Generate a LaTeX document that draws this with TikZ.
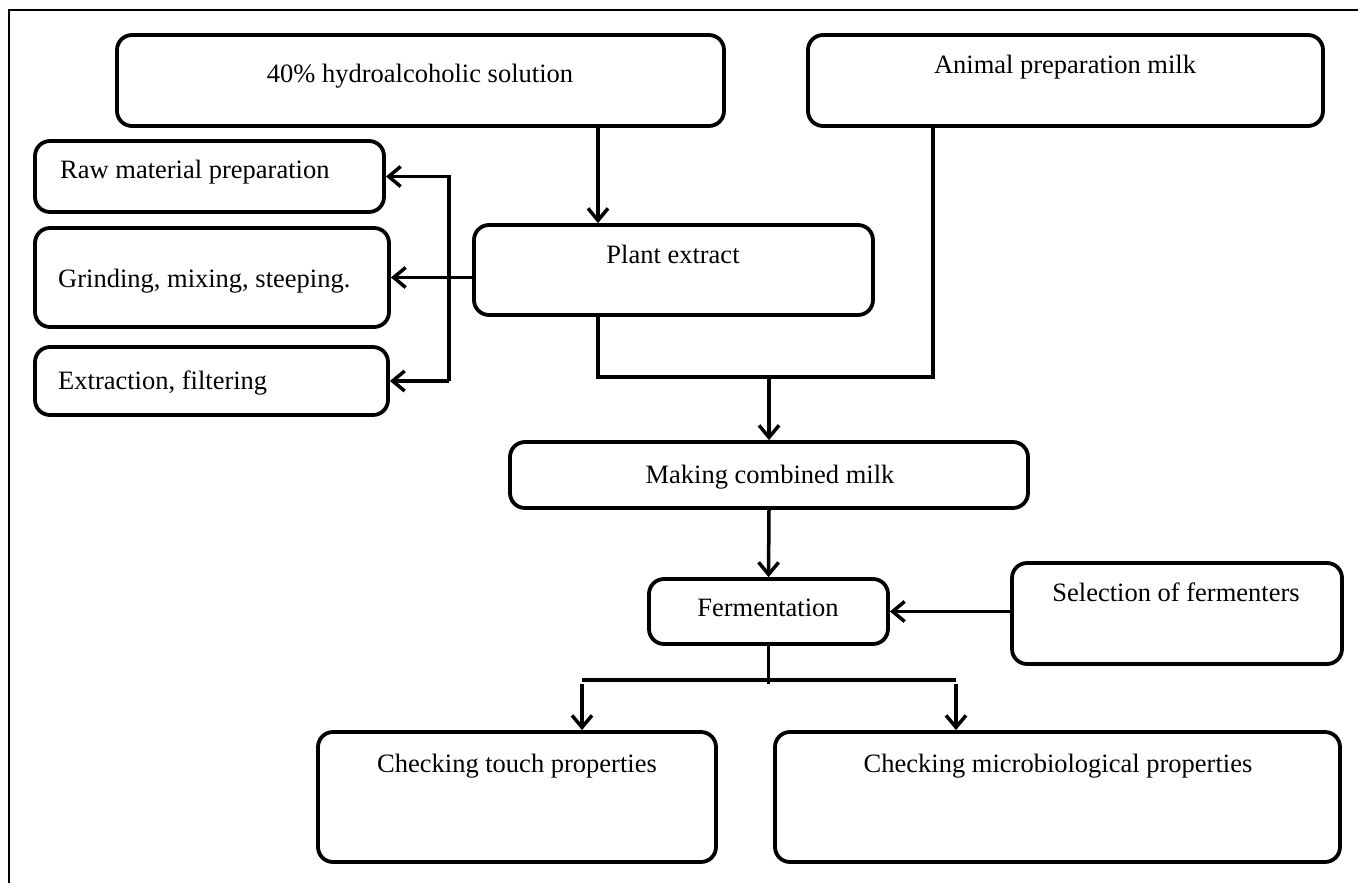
\documentclass[tikz,border=0pt]{standalone}
\usepackage{fontspec}
\setmainfont{Liberation Serif}
\usetikzlibrary{arrows.meta,fit,calc}
\begin{document}
\begin{tikzpicture}[x=1pt,y=-1pt,
  box/.style={draw, line width=3.8pt, rounded corners=15pt, inner sep=0pt},
  txt/.style={font=\fontsize{26.5}{30}\selectfont, inner sep=0pt},
  conn/.style={line width=3.5pt},
  arr/.style={line width=3.5pt, -{Straight Barb[length=12pt,width=20pt]}}]
\useasboundingbox (0,0) rectangle (1358,883);
% frame
\draw[line width=1.3pt] (1358,10) -- (9,10) -- (9,883);
% boxes
\node[box, fit={(117,35) (724,126)}] (sol) {};
\node[box, fit={(808,35) (1323,126)}] (milk) {};
\node[box, fit={(35,141) (384,212)}] (raw) {};
\node[box, fit={(35,228) (389,327)}] (grind) {};
\node[box, fit={(35,347) (388,415)}] (extr) {};
\node[box, fit={(474,225) (873,315)}] (plant) {};
\node[box, fit={(510,442) (1028,508)}] (making) {};
\node[box, fit={(649,579) (888,644)}] (ferm) {};
\node[box, fit={(1012,563) (1342,664)}] (sel) {};
\node[box, fit={(318,732) (716,862)}] (touch) {};
\node[box, fit={(775,732) (1340,862)}] (micro) {};
% texts
\node[txt, anchor=base] (tsol) at (420,82) {40\% hydroalcoholic solution};
\node[txt, anchor=base] (tmilk) at (1065,74) {Animal preparation milk};
\node[txt, anchor=base west] (traw) at (60,178) {Raw material preparation};
\node[txt, anchor=base west] (tgrind) at (58,287) {Grinding, mixing, steeping.};
\node[txt, anchor=base west] (textr) at (58,389) {Extraction, filtering};
\node[txt, anchor=base] (tplant) at (673,263) {Plant extract};
\node[txt, anchor=base] (tmaking) at (770,483) {Making combined milk};
\node[txt, anchor=base] (tferm) at (768,616) {Fermentation};
\node[txt, anchor=base] (tsel) at (1176,601) {Selection of fermenters};
\node[txt, anchor=base] (ttouch) at (517,772) {Checking touch properties};
\node[txt, anchor=base] (tmicro) at (1058,772) {Checking microbiological properties};
% helper coordinates
\coordinate (jx1) at (598,0);
\coordinate (br) at (449,0);
\coordinate (jx3) at (933,0);
\coordinate (jy) at (0,377);
\coordinate (jy2) at (0,680);
\coordinate (jy3) at (0,684);
\coordinate (jx4) at (582,0);
\coordinate (jx5) at (956,0);
% connectors
\draw[arr] (sol.south -| jx1) -- (plant.north -| jx1);
\draw[arr] (plant.west |- grind.east) -- (grind.east);
\draw[arr] (br |- extr.east) -- (br |- raw.east) -- (raw.east);
\draw[arr] (br |- extr.east) -- (extr.east);
\draw[conn] (plant.south -| jx1) |- (jy -| jx3) -- (milk.south -| jx3);
\draw[arr] (jy -| making.north) -- (making.north);
\draw[arr] (making.south) -- (ferm.north);
\draw[arr] (sel.west |- ferm.east) -- (ferm.east);
\draw[conn] (ferm.south) -- (ferm.south |- jy3);
\draw[conn] (jx4 |- jy2) -- (jx5 |- jy2);
\draw[arr] (jx4 |- jy3) -- (touch.north -| jx4);
\draw[arr] (jx5 |- jy3) -- (micro.north -| jx5);
\end{tikzpicture}
\end{document}
